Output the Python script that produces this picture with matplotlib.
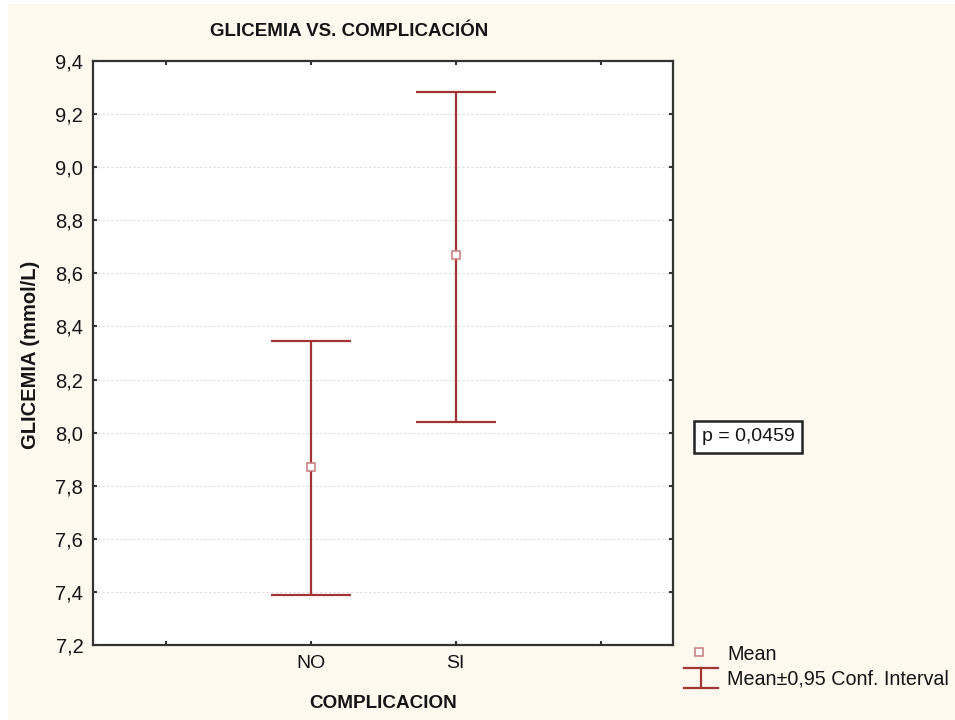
# glicemia vs complicacion: mean +/- 95% CI
import numpy as np
import matplotlib.pyplot as plt
from matplotlib.patches import Rectangle
from matplotlib.lines import Line2D

plt.rcParams['font.family'] = ['Liberation Sans', 'DejaVu Sans']

groups = ["NO", "SI"]
means = [7.87, 8.67]
ci_low = [7.39, 8.04]
ci_high = [8.345, 9.285]
xticks = [0, 1, 2, 3]
xticklabels = ["", "NO", "SI", ""]
yticks = [7.2, 7.4, 7.6, 7.8, 8.0, 8.2, 8.4, 8.6, 8.8, 9.0, 9.2, 9.4]
yticklabels = ["7,2", "7,4", "7,6", "7,8", "8,0", "8,2", "8,4", "8,6", "8,8", "9,0", "9,2", "9,4"]
p_text = "p = 0,0459"

red = '#a33434'
cream = '#fdf9ef'
txt = '#151515'

fig = plt.figure(figsize=[9.55, 7.2], dpi=100)
fig.patch.set_facecolor('white')
# cream panel (thin white border left/top)
fig.add_artist(Rectangle((8/955, 0), 1, 1 - 4/720, transform=fig.transFigure,
                         facecolor=cream, edgecolor='none', zorder=-10))

ax = fig.add_axes([93/955, 1 - 645/720, 580/955, 584/720])
ax.set_facecolor('white')

x = np.array([1, 2])
m = np.array(means)
yerr = [m - np.array(ci_low), np.array(ci_high) - m]
ax.errorbar(x, m, yerr=yerr, fmt='none', ecolor=red, elinewidth=1.6,
            capsize=29, capthick=1.6, zorder=3)
ax.plot(x, m, 's', ms=6, mfc='white', mec='#c47a7a', mew=1.1, zorder=4)

ax.set_xlim(-0.5, 3.5)
ax.set_ylim(7.2, 9.4)
ax.set_xticks(xticks)
ax.set_xticklabels(xticklabels, fontsize=14, color=txt)
ax.set_yticks(yticks)
ax.set_yticklabels(yticklabels, fontsize=14.5, color=txt)
ax.tick_params(direction='in', length=3, width=1.5, top=True, right=True,
               color='#333333', pad=7)
ax.yaxis.grid(True, color='#dddddd', linestyle=(0, (2, 2)), linewidth=0.8)
ax.set_axisbelow(True)
for s in ax.spines.values():
    s.set_linewidth(1.6)
    s.set_color('#333333')

fig.text(349/955, 1 - 31/720, "GLICEMIA VS. COMPLICACIÓN", ha='center', va='center',
         fontsize=13.5, fontweight='bold', color=txt)
fig.text(383/955, 1 - 704/720, "COMPLICACION", ha='center', va='center',
         fontsize=13.6, fontweight='bold', color=txt)
fig.text(31/955, 1 - 355/720, "GLICEMIA (mmol/L)", ha='center', va='center',
         rotation=90, fontsize=14.5, fontweight='bold', color=txt)

# p-value box
fig.text(748/955, 1 - 437/720, p_text, ha='center', va='center', fontsize=14,
         color=txt,
         bbox=dict(boxstyle='square,pad=0.4', facecolor='white',
                   edgecolor='#222222', linewidth=1.8))

# legend drawn by hand
fig.add_artist(Line2D([699/955], [1 - 652/720], marker='s', ms=6, mfc='white',
                      mec='#c47a7a', mew=1.1, transform=fig.transFigure))
fig.text(727/955, 1 - 655/720, "Mean", ha='left', va='center', fontsize=14.2, color=txt)
for yy in [668, 688]:
    fig.add_artist(Line2D([684/955, 718/955], [1 - yy/720, 1 - yy/720], color=red,
                          lw=1.6, transform=fig.transFigure))
fig.add_artist(Line2D([701/955, 701/955], [1 - 668/720, 1 - 688/720], color=red,
                      lw=1.6, transform=fig.transFigure))
fig.text(727/955, 1 - 679/720, "Mean±0,95 Conf. Interval", ha='left', va='center',
         fontsize=14.2, color=txt)

plt.savefig("out.png", dpi=100)
